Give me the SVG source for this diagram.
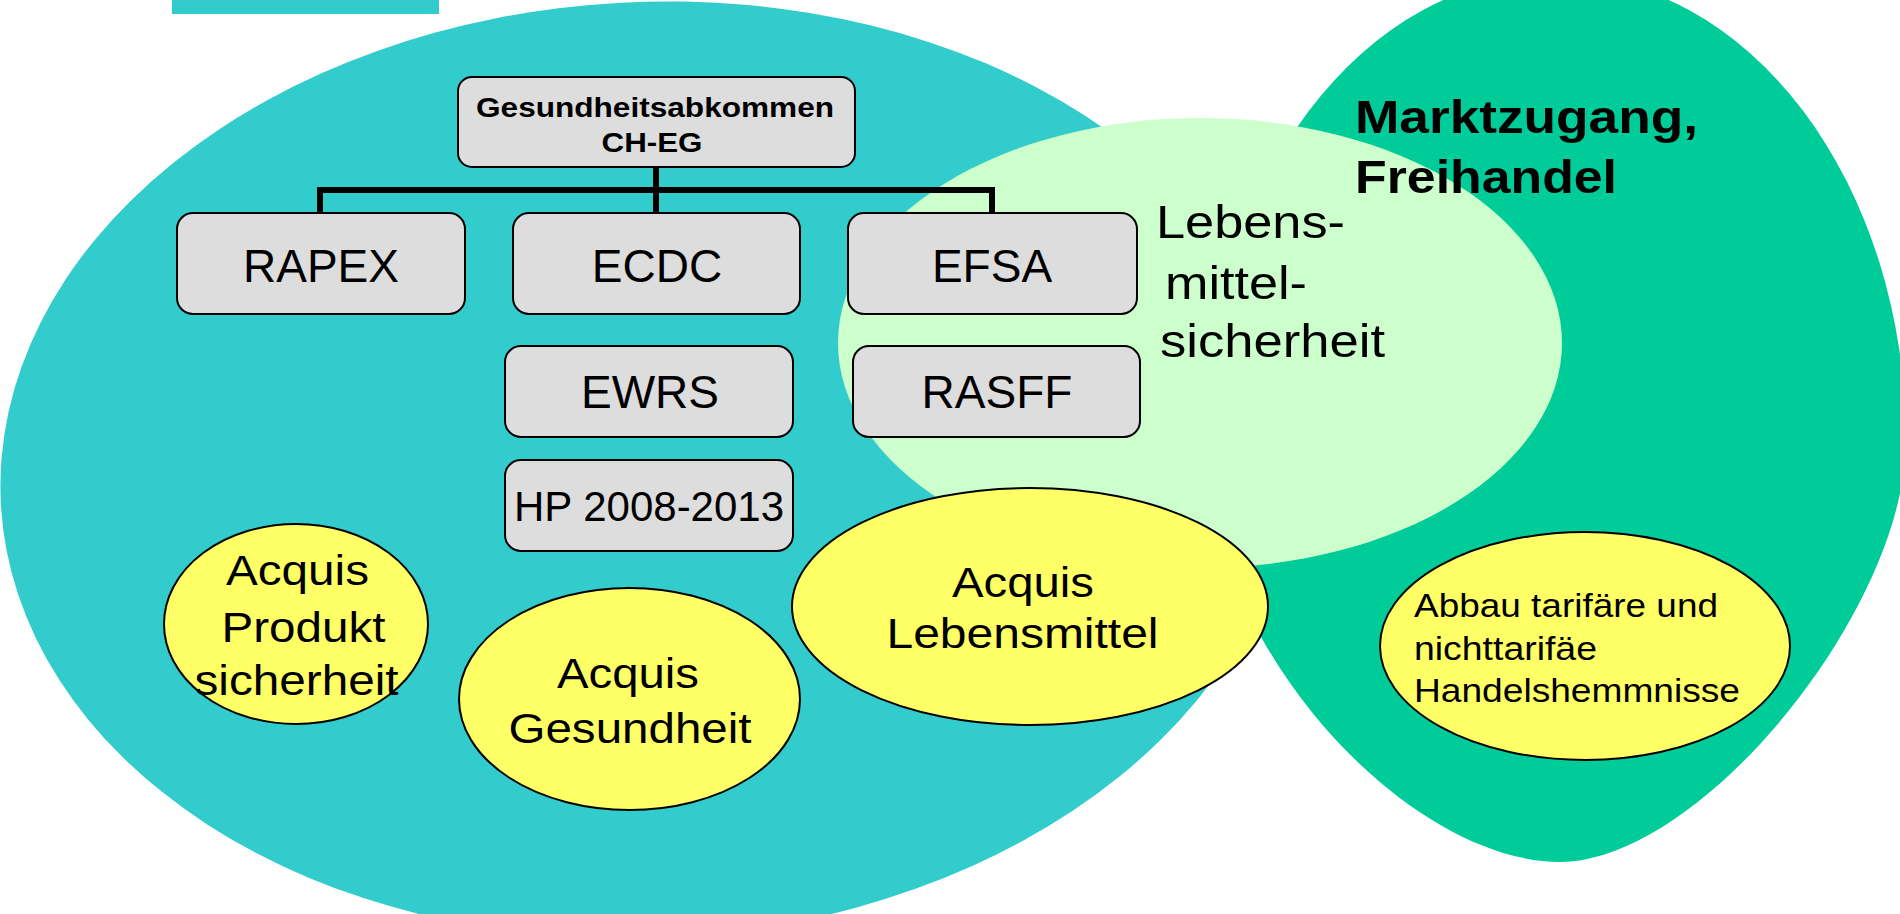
<svg xmlns="http://www.w3.org/2000/svg" width="1900" height="914" viewBox="0 0 1900 914">
<style>
text{font-family:"Liberation Sans",Arial,sans-serif;fill:#000}
.box{fill:#DDDDDD;stroke:#000;stroke-width:2}
.ell{fill:#FFFF66;stroke:#000;stroke-width:2}
.conn{fill:none;stroke:#000;stroke-width:6}
.bt{font-size:46px;text-anchor:middle}
.ac{font-size:42px;text-anchor:middle}
</style>
<rect width="1900" height="914" fill="#FFFFFF"/>
<g id="backgrounds">
<rect x="172" y="0" width="267" height="14" fill="#33CCCC"/>
<ellipse cx="646" cy="470" rx="646" ry="468" fill="#33CCCC" transform="rotate(-3 646 470)"/>
<path d="M 1206,440 A 350 465 0 0 1 1906,440 C 1906,610 1700,862 1560,862 C 1410,862 1206,650 1206,440 Z" fill="#00CC99"/>
<ellipse cx="1200" cy="343" rx="362" ry="225" fill="#CCFFCC"/>
</g>
<g id="label-markt">
<text x="1355" y="133" font-size="46" font-weight="bold" textLength="343" lengthAdjust="spacingAndGlyphs">Marktzugang,</text>
<text x="1355" y="193" font-size="46" font-weight="bold" textLength="262" lengthAdjust="spacingAndGlyphs">Freihandel</text>
</g>
<g id="label-lebensmittelsicherheit">
<text x="1156" y="238" font-size="46" textLength="189" lengthAdjust="spacingAndGlyphs">Lebens-</text>
<text x="1165" y="299" font-size="46" textLength="142" lengthAdjust="spacingAndGlyphs">mittel-</text>
<text x="1160" y="357" font-size="46" textLength="225" lengthAdjust="spacingAndGlyphs">sicherheit</text>
</g>
<g id="connectors">
<path class="conn" d="M656,167 V213 M320,190 H992 M320,187 V213 M992,187 V213"/>
</g>
<g id="node-gesundheitsabkommen">
<rect class="box" x="458" y="77" width="397" height="90" rx="14"/>
<text x="655" y="117" font-size="28" font-weight="bold" text-anchor="middle" textLength="358" lengthAdjust="spacingAndGlyphs">Gesundheitsabkommen</text>
<text x="652" y="152" font-size="28" font-weight="bold" text-anchor="middle" textLength="101" lengthAdjust="spacingAndGlyphs">CH-EG</text>
</g>
<g id="node-rapex">
<rect class="box" x="177" y="213" width="288" height="101" rx="16"/>
<text class="bt" x="321" y="282">RAPEX</text>
</g>
<g id="node-ecdc">
<rect class="box" x="513" y="213" width="287" height="101" rx="16"/>
<text class="bt" x="657" y="282">ECDC</text>
</g>
<g id="node-efsa">
<rect class="box" x="848" y="213" width="289" height="101" rx="16"/>
<text class="bt" x="992" y="282">EFSA</text>
</g>
<g id="node-ewrs">
<rect class="box" x="505" y="346" width="288" height="91" rx="16"/>
<text class="bt" x="650" y="408">EWRS</text>
</g>
<g id="node-rasff">
<rect class="box" x="853" y="346" width="287" height="91" rx="16"/>
<text class="bt" x="997" y="408">RASFF</text>
</g>
<g id="node-hp">
<rect class="box" x="505" y="460" width="288" height="91" rx="16"/>
<text x="649" y="521" font-size="42" text-anchor="middle">HP 2008-2013</text>
</g>
<g id="node-acquis-produkt">
<ellipse class="ell" cx="296" cy="624" rx="132" ry="100"/>
<text class="ac" x="297.5" y="585" textLength="143" lengthAdjust="spacingAndGlyphs">Acquis</text>
<text class="ac" x="303.5" y="642" textLength="164" lengthAdjust="spacingAndGlyphs">Produkt</text>
<text class="ac" x="296.5" y="695" textLength="204" lengthAdjust="spacingAndGlyphs">sicherheit</text>
</g>
<g id="node-acquis-gesundheit">
<ellipse class="ell" cx="629.5" cy="699" rx="170.5" ry="111"/>
<text class="ac" x="628" y="688" textLength="142" lengthAdjust="spacingAndGlyphs">Acquis</text>
<text class="ac" x="630" y="743" textLength="243" lengthAdjust="spacingAndGlyphs">Gesundheit</text>
</g>
<g id="node-acquis-lebensmittel">
<ellipse class="ell" cx="1030" cy="606.5" rx="238" ry="118.5"/>
<text class="ac" x="1023" y="597" textLength="142" lengthAdjust="spacingAndGlyphs">Acquis</text>
<text class="ac" x="1022.5" y="648" textLength="272" lengthAdjust="spacingAndGlyphs">Lebensmittel</text>
</g>
<g id="node-abbau">
<ellipse class="ell" cx="1585" cy="646" rx="205" ry="114"/>
<text x="1414" y="617" font-size="33" textLength="304" lengthAdjust="spacingAndGlyphs">Abbau tarifäre und</text>
<text x="1414" y="660" font-size="33" textLength="183" lengthAdjust="spacingAndGlyphs">nichttarifäe</text>
<text x="1414" y="702" font-size="33" textLength="326" lengthAdjust="spacingAndGlyphs">Handelshemmnisse</text>
</g>
</svg>
